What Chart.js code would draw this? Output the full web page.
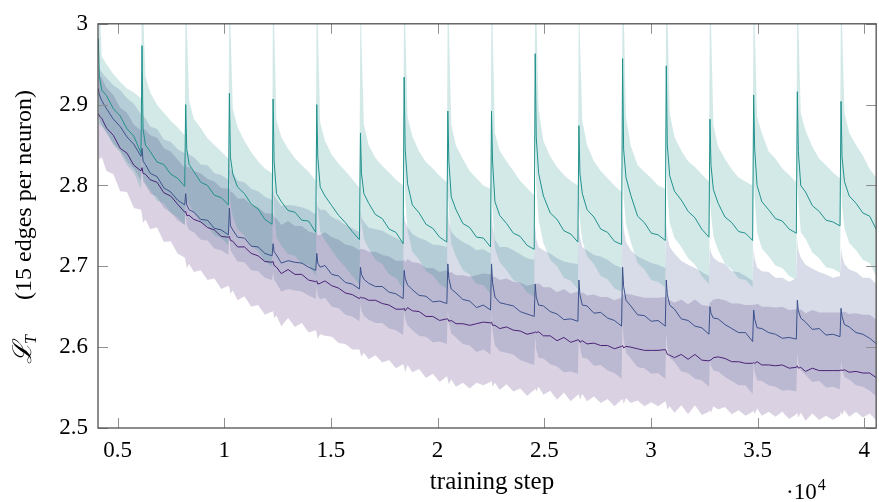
<!DOCTYPE html>
<html lang="en">
<head>
<meta charset="UTF-8">
<title>L_T over training steps</title>
<script src="https://cdn.jsdelivr.net/npm/chart.js"></script>
<style>
  body { margin: 0; background: #fff; }
  #chart { display: block; }
</style>
</head>
<body>
<canvas id="chart" width="879" height="502"></canvas>
<script>
// training steps (shared x grid, resets every 2048 steps)
const steps = [
  4096, 4144, 4256, 4480, 4800, 5120, 5440, 5760, 6096,
  6144, 6192, 6304, 6528, 6848, 7168, 7488, 7808, 8144,
  8192, 8240, 8352, 8576, 8896, 9216, 9536, 9856, 10192,
  10240, 10288, 10400, 10624, 10944, 11264, 11584, 11904, 12240,
  12288, 12336, 12448, 12672, 12992, 13312, 13632, 13952, 14288,
  14336, 14384, 14496, 14720, 15040, 15360, 15680, 16000, 16336,
  16384, 16432, 16544, 16768, 17088, 17408, 17728, 18048, 18384,
  18432, 18480, 18592, 18816, 19136, 19456, 19776, 20096, 20432,
  20480, 20528, 20640, 20864, 21184, 21504, 21824, 22144, 22480,
  22528, 22576, 22688, 22912, 23232, 23552, 23872, 24192, 24528,
  24576, 24624, 24736, 24960, 25280, 25600, 25920, 26240, 26576,
  26624, 26672, 26784, 27008, 27328, 27648, 27968, 28288, 28624,
  28672, 28720, 28832, 29056, 29376, 29696, 30016, 30336, 30672,
  30720, 30768, 30880, 31104, 31424, 31744, 32064, 32384, 32720,
  32768, 32816, 32928, 33152, 33472, 33792, 34112, 34432, 34768,
  34816, 34864, 34976, 35200, 35520, 35840, 36160, 36480, 36816,
  36864, 36912, 37024, 37248, 37568, 37888, 38208, 38528, 38864,
  38912, 38960, 39072, 39296, 39616, 39936, 40256, 40576
];

// teal run (big spikes at every reset)
const tealMean = [
  2.982, 2.935, 2.918, 2.911, 2.895, 2.886, 2.870, 2.861, 2.840,
  2.973, 2.870, 2.850, 2.842, 2.829, 2.826, 2.814, 2.809, 2.799,
  2.900, 2.845, 2.826, 2.817, 2.804, 2.800, 2.788, 2.785, 2.776,
  2.914, 2.835, 2.814, 2.798, 2.790, 2.777, 2.771, 2.758, 2.752,
  2.907, 2.830, 2.790, 2.780, 2.769, 2.767, 2.757, 2.756, 2.742,
  2.900, 2.835, 2.798, 2.787, 2.775, 2.763, 2.754, 2.743, 2.733,
  2.865, 2.815, 2.790, 2.778, 2.764, 2.759, 2.746, 2.742, 2.728,
  2.934, 2.845, 2.802, 2.776, 2.766, 2.752, 2.747, 2.736, 2.730,
  2.892, 2.830, 2.786, 2.770, 2.753, 2.748, 2.736, 2.735, 2.724,
  2.892, 2.830, 2.780, 2.763, 2.753, 2.741, 2.737, 2.726, 2.721,
  2.963, 2.860, 2.815, 2.787, 2.766, 2.758, 2.744, 2.740, 2.730,
  2.874, 2.815, 2.790, 2.770, 2.761, 2.746, 2.742, 2.731, 2.727,
  2.957, 2.845, 2.810, 2.788, 2.762, 2.754, 2.741, 2.739, 2.732,
  2.948, 2.850, 2.812, 2.793, 2.782, 2.768, 2.760, 2.746, 2.736,
  2.882, 2.825, 2.795, 2.778, 2.761, 2.754, 2.743, 2.741, 2.732,
  2.912, 2.845, 2.800, 2.780, 2.770, 2.759, 2.756, 2.746, 2.741,
  2.916, 2.842, 2.800, 2.792, 2.775, 2.768, 2.757, 2.755, 2.750,
  2.904, 2.835, 2.805, 2.787, 2.778, 2.766, 2.762, 2.745
];
const tealUpper = [
  3.06, 3.03, 2.960, 2.950, 2.938, 2.928, 2.920, 2.915, 2.908,
  3.06, 3.02, 2.935, 2.915, 2.900, 2.890, 2.880, 2.872, 2.862,
  3.06, 3.00, 2.905, 2.882, 2.871, 2.858, 2.850, 2.842, 2.833,
  3.06, 3.00, 2.895, 2.872, 2.855, 2.841, 2.830, 2.821, 2.815,
  3.06, 3.00, 2.880, 2.860, 2.845, 2.834, 2.825, 2.817, 2.806,
  3.06, 3.00, 2.878, 2.855, 2.838, 2.827, 2.818, 2.808, 2.797,
  3.06, 2.98, 2.875, 2.850, 2.834, 2.824, 2.816, 2.807, 2.800,
  3.06, 3.00, 2.885, 2.861, 2.842, 2.829, 2.821, 2.812, 2.804,
  3.06, 3.00, 2.875, 2.849, 2.833, 2.818, 2.809, 2.800, 2.796,
  3.06, 3.00, 2.865, 2.843, 2.830, 2.818, 2.806, 2.797, 2.788,
  3.06, 3.02, 2.895, 2.855, 2.836, 2.823, 2.813, 2.806, 2.800,
  3.06, 2.98, 2.880, 2.850, 2.830, 2.818, 2.809, 2.800, 2.792,
  3.06, 3.02, 2.885, 2.849, 2.825, 2.817, 2.809, 2.800, 2.796,
  3.06, 3.02, 2.890, 2.860, 2.843, 2.830, 2.823, 2.814, 2.805,
  3.06, 3.00, 2.875, 2.848, 2.833, 2.820, 2.810, 2.805, 2.800,
  3.06, 3.00, 2.885, 2.865, 2.842, 2.833, 2.821, 2.813, 2.804,
  3.06, 3.00, 2.890, 2.868, 2.848, 2.833, 2.825, 2.816, 2.809,
  3.06, 3.00, 2.890, 2.865, 2.850, 2.837, 2.820, 2.810
];
const tealLower = [
  2.900, 2.875, 2.873, 2.866, 2.850, 2.841, 2.825, 2.816, 2.795,
  2.873, 2.810, 2.802, 2.794, 2.781, 2.778, 2.766, 2.761, 2.751,
  2.800, 2.785, 2.776, 2.767, 2.754, 2.750, 2.738, 2.735, 2.726,
  2.814, 2.775, 2.762, 2.746, 2.738, 2.725, 2.719, 2.706, 2.700,
  2.807, 2.770, 2.736, 2.726, 2.715, 2.713, 2.703, 2.702, 2.688,
  2.800, 2.775, 2.743, 2.732, 2.720, 2.708, 2.699, 2.688, 2.678,
  2.765, 2.755, 2.734, 2.722, 2.708, 2.703, 2.690, 2.686, 2.672,
  2.834, 2.785, 2.744, 2.718, 2.708, 2.694, 2.689, 2.678, 2.672,
  2.792, 2.770, 2.728, 2.712, 2.695, 2.690, 2.678, 2.677, 2.666,
  2.792, 2.770, 2.722, 2.705, 2.695, 2.683, 2.679, 2.668, 2.663,
  2.863, 2.800, 2.757, 2.729, 2.708, 2.700, 2.686, 2.682, 2.672,
  2.774, 2.755, 2.732, 2.712, 2.703, 2.688, 2.684, 2.673, 2.669,
  2.857, 2.785, 2.752, 2.730, 2.704, 2.696, 2.683, 2.681, 2.674,
  2.848, 2.790, 2.754, 2.735, 2.724, 2.710, 2.702, 2.688, 2.678,
  2.782, 2.765, 2.737, 2.720, 2.703, 2.696, 2.685, 2.683, 2.674,
  2.812, 2.785, 2.742, 2.722, 2.712, 2.701, 2.698, 2.688, 2.683,
  2.816, 2.782, 2.742, 2.734, 2.717, 2.710, 2.699, 2.697, 2.692,
  2.804, 2.775, 2.747, 2.729, 2.720, 2.708, 2.704, 2.687
];

// blue run (small spikes at resets)
const blueMean = [
  2.920, 2.912, 2.905, 2.895, 2.882, 2.873, 2.860, 2.851, 2.836,
  2.846, 2.830, 2.826, 2.815, 2.811, 2.797, 2.792, 2.782, 2.776,
  2.790, 2.776, 2.770, 2.767, 2.758, 2.757, 2.747, 2.745, 2.739,
  2.772, 2.750, 2.745, 2.736, 2.735, 2.725, 2.724, 2.716, 2.713,
  2.728, 2.718, 2.714, 2.704, 2.707, 2.705, 2.704, 2.699, 2.695,
  2.716, 2.704, 2.699, 2.701, 2.690, 2.688, 2.680, 2.678, 2.672,
  2.699, 2.690, 2.684, 2.679, 2.675, 2.675, 2.668, 2.666, 2.660,
  2.695, 2.685, 2.677, 2.671, 2.664, 2.663, 2.656, 2.657, 2.654,
  2.703, 2.685, 2.672, 2.667, 2.659, 2.657, 2.649, 2.652, 2.646,
  2.703, 2.680, 2.662, 2.655, 2.653, 2.651, 2.644, 2.641, 2.638,
  2.678, 2.662, 2.652, 2.651, 2.644, 2.641, 2.634, 2.635, 2.632,
  2.683, 2.665, 2.652, 2.651, 2.642, 2.643, 2.636, 2.633, 2.626,
  2.699, 2.675, 2.658, 2.651, 2.640, 2.639, 2.632, 2.633, 2.626,
  2.683, 2.665, 2.652, 2.647, 2.635, 2.633, 2.626, 2.624, 2.616,
  2.650, 2.642, 2.636, 2.635, 2.628, 2.623, 2.618, 2.618, 2.607,
  2.646, 2.635, 2.624, 2.623, 2.618, 2.616, 2.611, 2.612, 2.610,
  2.658, 2.645, 2.636, 2.631, 2.622, 2.623, 2.615, 2.616, 2.613,
  2.648, 2.638, 2.628, 2.625, 2.618, 2.616, 2.611, 2.604
];
const blueUpper = [
  2.950, 2.944, 2.940, 2.933, 2.924, 2.918, 2.908, 2.901, 2.888,
  2.901, 2.886, 2.883, 2.873, 2.870, 2.857, 2.854, 2.845, 2.840,
  2.858, 2.844, 2.838, 2.835, 2.826, 2.825, 2.815, 2.813, 2.807,
  2.842, 2.820, 2.816, 2.806, 2.804, 2.796, 2.793, 2.786, 2.782,
  2.798, 2.788, 2.783, 2.775, 2.776, 2.775, 2.773, 2.770, 2.764,
  2.786, 2.774, 2.770, 2.770, 2.761, 2.757, 2.751, 2.747, 2.742,
  2.769, 2.760, 2.755, 2.748, 2.746, 2.744, 2.739, 2.735, 2.730,
  2.765, 2.755, 2.748, 2.740, 2.735, 2.732, 2.727, 2.726, 2.724,
  2.773, 2.755, 2.743, 2.736, 2.730, 2.726, 2.720, 2.721, 2.716,
  2.773, 2.750, 2.733, 2.724, 2.724, 2.720, 2.715, 2.710, 2.708,
  2.750, 2.734, 2.724, 2.720, 2.716, 2.710, 2.706, 2.704, 2.703,
  2.755, 2.737, 2.724, 2.720, 2.714, 2.712, 2.708, 2.702, 2.698,
  2.771, 2.747, 2.730, 2.720, 2.712, 2.708, 2.704, 2.702, 2.698,
  2.755, 2.737, 2.724, 2.716, 2.707, 2.702, 2.698, 2.693, 2.688,
  2.725, 2.717, 2.711, 2.706, 2.703, 2.694, 2.693, 2.688, 2.682,
  2.721, 2.710, 2.699, 2.694, 2.693, 2.686, 2.686, 2.681, 2.685,
  2.733, 2.720, 2.711, 2.702, 2.697, 2.693, 2.690, 2.686, 2.688,
  2.723, 2.713, 2.703, 2.696, 2.693, 2.686, 2.686, 2.678
];
const blueLower = [
  2.890, 2.882, 2.875, 2.865, 2.852, 2.843, 2.830, 2.821, 2.806,
  2.821, 2.805, 2.801, 2.790, 2.786, 2.772, 2.767, 2.757, 2.751,
  2.765, 2.751, 2.745, 2.742, 2.733, 2.732, 2.722, 2.720, 2.714,
  2.742, 2.720, 2.715, 2.706, 2.705, 2.695, 2.694, 2.686, 2.683,
  2.693, 2.683, 2.679, 2.669, 2.672, 2.670, 2.669, 2.664, 2.660,
  2.676, 2.664, 2.659, 2.661, 2.650, 2.648, 2.640, 2.638, 2.632,
  2.654, 2.645, 2.639, 2.634, 2.630, 2.630, 2.623, 2.621, 2.615,
  2.645, 2.635, 2.627, 2.621, 2.614, 2.613, 2.606, 2.607, 2.604,
  2.648, 2.630, 2.617, 2.612, 2.604, 2.602, 2.594, 2.597, 2.591,
  2.643, 2.620, 2.602, 2.595, 2.593, 2.591, 2.584, 2.581, 2.578,
  2.613, 2.597, 2.587, 2.586, 2.579, 2.576, 2.569, 2.570, 2.567,
  2.618, 2.600, 2.587, 2.586, 2.577, 2.578, 2.571, 2.568, 2.561,
  2.634, 2.610, 2.593, 2.586, 2.575, 2.574, 2.567, 2.568, 2.561,
  2.618, 2.600, 2.587, 2.582, 2.570, 2.568, 2.561, 2.559, 2.551,
  2.585, 2.577, 2.571, 2.570, 2.563, 2.558, 2.553, 2.553, 2.542,
  2.581, 2.570, 2.559, 2.558, 2.553, 2.551, 2.546, 2.547, 2.545,
  2.593, 2.580, 2.571, 2.566, 2.557, 2.558, 2.550, 2.551, 2.548,
  2.583, 2.573, 2.563, 2.560, 2.553, 2.551, 2.546, 2.539
];

// purple run (no resets)
const purpleMean = [
  2.889, 2.886, 2.883, 2.871, 2.862, 2.846, 2.840, 2.825, 2.818,
  2.822, 2.815, 2.814, 2.807, 2.804, 2.791, 2.787, 2.777, 2.767,
  2.768, 2.763, 2.763, 2.758, 2.755, 2.748, 2.745, 2.737, 2.736,
  2.737, 2.732, 2.731, 2.724, 2.724, 2.716, 2.713, 2.706, 2.705,
  2.706, 2.701, 2.699, 2.691, 2.696, 2.690, 2.690, 2.683, 2.681,
  2.682, 2.678, 2.679, 2.682, 2.676, 2.673, 2.667, 2.665, 2.660,
  2.662, 2.661, 2.661, 2.658, 2.658, 2.654, 2.652, 2.647, 2.647,
  2.648, 2.645, 2.649, 2.645, 2.644, 2.638, 2.638, 2.633, 2.635,
  2.635, 2.632, 2.633, 2.629, 2.629, 2.627, 2.629, 2.631, 2.630,
  2.631, 2.627, 2.627, 2.623, 2.625, 2.621, 2.620, 2.616, 2.618,
  2.619, 2.618, 2.619, 2.614, 2.614, 2.608, 2.612, 2.606, 2.609,
  2.609, 2.606, 2.608, 2.604, 2.605, 2.602, 2.602, 2.598, 2.601,
  2.602, 2.599, 2.601, 2.600, 2.598, 2.596, 2.596, 2.596, 2.597,
  2.595, 2.591, 2.590, 2.587, 2.591, 2.585, 2.591, 2.584, 2.583,
  2.584, 2.584, 2.587, 2.588, 2.586, 2.582, 2.582, 2.580, 2.580,
  2.581, 2.580, 2.582, 2.578, 2.578, 2.577, 2.578, 2.574, 2.575,
  2.577, 2.574, 2.575, 2.570, 2.574, 2.571, 2.571, 2.571, 2.571,
  2.572, 2.571, 2.572, 2.569, 2.570, 2.568, 2.568, 2.562
];
const purpleUpper = [
  2.939, 2.936, 2.933, 2.921, 2.912, 2.896, 2.890, 2.875, 2.868,
  2.877, 2.870, 2.869, 2.862, 2.859, 2.846, 2.842, 2.832, 2.822,
  2.828, 2.823, 2.823, 2.818, 2.815, 2.808, 2.805, 2.797, 2.796,
  2.797, 2.792, 2.791, 2.784, 2.784, 2.776, 2.773, 2.766, 2.765,
  2.766, 2.761, 2.759, 2.751, 2.756, 2.750, 2.750, 2.743, 2.741,
  2.742, 2.738, 2.739, 2.742, 2.736, 2.733, 2.727, 2.725, 2.720,
  2.722, 2.721, 2.721, 2.718, 2.718, 2.714, 2.712, 2.707, 2.707,
  2.708, 2.705, 2.709, 2.705, 2.704, 2.698, 2.698, 2.693, 2.695,
  2.695, 2.692, 2.693, 2.689, 2.689, 2.687, 2.689, 2.691, 2.690,
  2.691, 2.687, 2.687, 2.683, 2.685, 2.681, 2.680, 2.676, 2.678,
  2.679, 2.678, 2.679, 2.674, 2.674, 2.668, 2.672, 2.666, 2.669,
  2.669, 2.666, 2.668, 2.664, 2.665, 2.662, 2.662, 2.658, 2.661,
  2.667, 2.664, 2.666, 2.665, 2.663, 2.661, 2.661, 2.661, 2.662,
  2.663, 2.659, 2.658, 2.655, 2.659, 2.653, 2.659, 2.652, 2.651,
  2.656, 2.656, 2.659, 2.660, 2.658, 2.654, 2.654, 2.652, 2.652,
  2.653, 2.652, 2.654, 2.650, 2.650, 2.649, 2.650, 2.646, 2.647,
  2.649, 2.646, 2.647, 2.642, 2.646, 2.643, 2.643, 2.643, 2.643,
  2.644, 2.643, 2.644, 2.641, 2.642, 2.640, 2.640, 2.634
];
const purpleLower = [
  2.839, 2.832, 2.835, 2.818, 2.814, 2.793, 2.792, 2.772, 2.770,
  2.764, 2.754, 2.758, 2.746, 2.748, 2.730, 2.731, 2.716, 2.711,
  2.706, 2.698, 2.703, 2.693, 2.695, 2.683, 2.685, 2.672, 2.676,
  2.674, 2.666, 2.670, 2.658, 2.663, 2.650, 2.652, 2.640, 2.644,
  2.644, 2.636, 2.639, 2.626, 2.636, 2.625, 2.630, 2.618, 2.621,
  2.617, 2.610, 2.616, 2.614, 2.613, 2.605, 2.604, 2.597, 2.597,
  2.592, 2.588, 2.593, 2.585, 2.590, 2.581, 2.584, 2.574, 2.579,
  2.575, 2.569, 2.578, 2.569, 2.573, 2.562, 2.567, 2.557, 2.564,
  2.560, 2.554, 2.560, 2.551, 2.556, 2.549, 2.556, 2.553, 2.557,
  2.558, 2.551, 2.556, 2.547, 2.554, 2.545, 2.549, 2.540, 2.547,
  2.549, 2.545, 2.551, 2.541, 2.546, 2.535, 2.544, 2.533, 2.541,
  2.541, 2.535, 2.542, 2.533, 2.539, 2.531, 2.536, 2.527, 2.535,
  2.536, 2.530, 2.537, 2.531, 2.534, 2.527, 2.532, 2.527, 2.533,
  2.530, 2.523, 2.527, 2.519, 2.528, 2.517, 2.528, 2.516, 2.520,
  2.522, 2.519, 2.527, 2.523, 2.526, 2.517, 2.522, 2.515, 2.520,
  2.521, 2.517, 2.524, 2.515, 2.520, 2.514, 2.520, 2.511, 2.517,
  2.519, 2.513, 2.519, 2.509, 2.518, 2.510, 2.515, 2.510, 2.515,
  2.520, 2.516, 2.522, 2.514, 2.520, 2.513, 2.518, 2.509
];

const xTicks = [5000, 10000, 15000, 20000, 25000, 30000, 35000, 40000];
const yTicks = [2.5, 2.6, 2.7, 2.8, 2.9, 3.0];

const FONT = "'Liberation Serif', 'DejaVu Serif', serif";
const colors = {
  teal: '#21918c',
  blue: '#3b528b',
  purple: '#4a2377'
};
const fills = {
  teal: 'rgba(33, 145, 140, 0.2)',
  blue: 'rgba(59, 82, 139, 0.2)',
  purple: 'rgba(72, 30, 112, 0.2)'
};

function toPoints(values) {
  return values.map((v, i) => ({ x: steps[i], y: v }));
}

function meanLine(values, color) {
  return {
    data: toPoints(values),
    borderColor: color,
    borderWidth: 1,
    pointRadius: 0,
    fill: false,
    order: 0
  };
}

// upper edge fills down to the lower edge (the next dataset)
function bandPair(upper, lower, color) {
  return [
    { data: toPoints(upper), borderWidth: 0, borderColor: 'rgba(0,0,0,0)', backgroundColor: color, pointRadius: 0, fill: '+1', order: 1 },
    { data: toPoints(lower), borderWidth: 0, borderColor: 'rgba(0,0,0,0)', pointRadius: 0, fill: false, order: 1 }
  ];
}

const datasets = [
  meanLine(tealMean, colors.teal),
  meanLine(blueMean, colors.blue),
  meanLine(purpleMean, colors.purple),
  ...bandPair(tealUpper, tealLower, fills.teal),
  ...bandPair(blueUpper, blueLower, fills.blue),
  ...bandPair(purpleUpper, purpleLower, fills.purple)
];

// pgfplots-like frame with inward ticks on all four sides
const framePlugin = {
  id: 'frame',
  afterDatasetsDraw(chart) {
    const { ctx, chartArea: a, scales: { x, y } } = chart;
    ctx.save();
    ctx.strokeStyle = '#8f8f8f';
    ctx.lineWidth = 1;
    ctx.beginPath();
    xTicks.forEach(v => {
      const px = Math.round(x.getPixelForValue(v)) + 0.5;
      ctx.moveTo(px, a.bottom); ctx.lineTo(px, a.bottom - 10);
      ctx.moveTo(px, a.top); ctx.lineTo(px, a.top + 10);
    });
    yTicks.forEach(v => {
      const py = Math.round(y.getPixelForValue(v)) + 0.5;
      ctx.moveTo(a.left, py); ctx.lineTo(a.left + 10, py);
      ctx.moveTo(a.right, py); ctx.lineTo(a.right - 10, py);
    });
    ctx.stroke();
    ctx.strokeStyle = '#505050';
    ctx.lineWidth = 1.3;
    ctx.strokeRect(a.left, a.top, a.right - a.left, a.bottom - a.top);
    ctx.restore();
  },
  afterDraw(chart) {
    const { ctx } = chart;
    ctx.save();
    ctx.fillStyle = '#000';
    // x title
    ctx.font = '25px ' + FONT;
    ctx.textAlign = 'center';
    ctx.textBaseline = 'alphabetic';
    ctx.fillText('training step', 492, 489);
    // exponent
    ctx.textAlign = 'left';
    ctx.font = '23px ' + FONT;
    ctx.fillText('·10', 786, 499);
    const w = ctx.measureText('·10').width;
    ctx.font = '16px ' + FONT;
    ctx.fillText('4', 786 + w + 1, 490);
    // y title, rotated
    ctx.translate(31, 364);
    ctx.rotate(-Math.PI / 2);
    ctx.font = 'italic 26px ' + FONT;
    ctx.fillText('\u2112', 0, 0);
    const lw = ctx.measureText('\u2112').width;
    ctx.font = 'italic 16px ' + FONT;
    ctx.fillText('T', lw - 2, 5);
    ctx.font = '24px ' + FONT;
    ctx.fillText('(15 edges per neuron)', 64, 0);
    ctx.restore();
  }
};

new Chart(document.getElementById('chart'), {
  type: 'line',
  data: { datasets: datasets },
  options: {
    responsive: false,
    animation: false,
    devicePixelRatio: 1,
    layout: { padding: { left: 0, right: 1, top: 18, bottom: 0 } },
    plugins: {
      legend: { display: false },
      tooltip: { enabled: false },
      filler: { propagate: false }
    },
    scales: {
      x: {
        type: 'linear',
        min: 4080,
        max: 40560,
        afterBuildTicks: s => { s.ticks = xTicks.map(v => ({ value: v })); },
        afterFit: s => { s.height = 74; },
        grid: { display: false, drawTicks: false },
        border: { display: false },
        ticks: {
          color: '#000',
          padding: 9,
          maxRotation: 0,
          autoSkip: false,
          font: { family: FONT, size: 23 },
          callback: v => String(v / 10000)
        }
      },
      y: {
        min: 2.5,
        max: 3,
        afterBuildTicks: s => { s.ticks = yTicks.map(v => ({ value: v })); },
        afterFit: s => { s.width = 98; },
        grid: { display: false, drawTicks: false },
        border: { display: false },
        ticks: {
          color: '#000',
          padding: 10,
          font: { family: FONT, size: 23 },
          callback: v => (v === 3 ? '3' : v.toFixed(1))
        }
      }
    }
  },
  plugins: [framePlugin]
});
</script>
</body>
</html>
